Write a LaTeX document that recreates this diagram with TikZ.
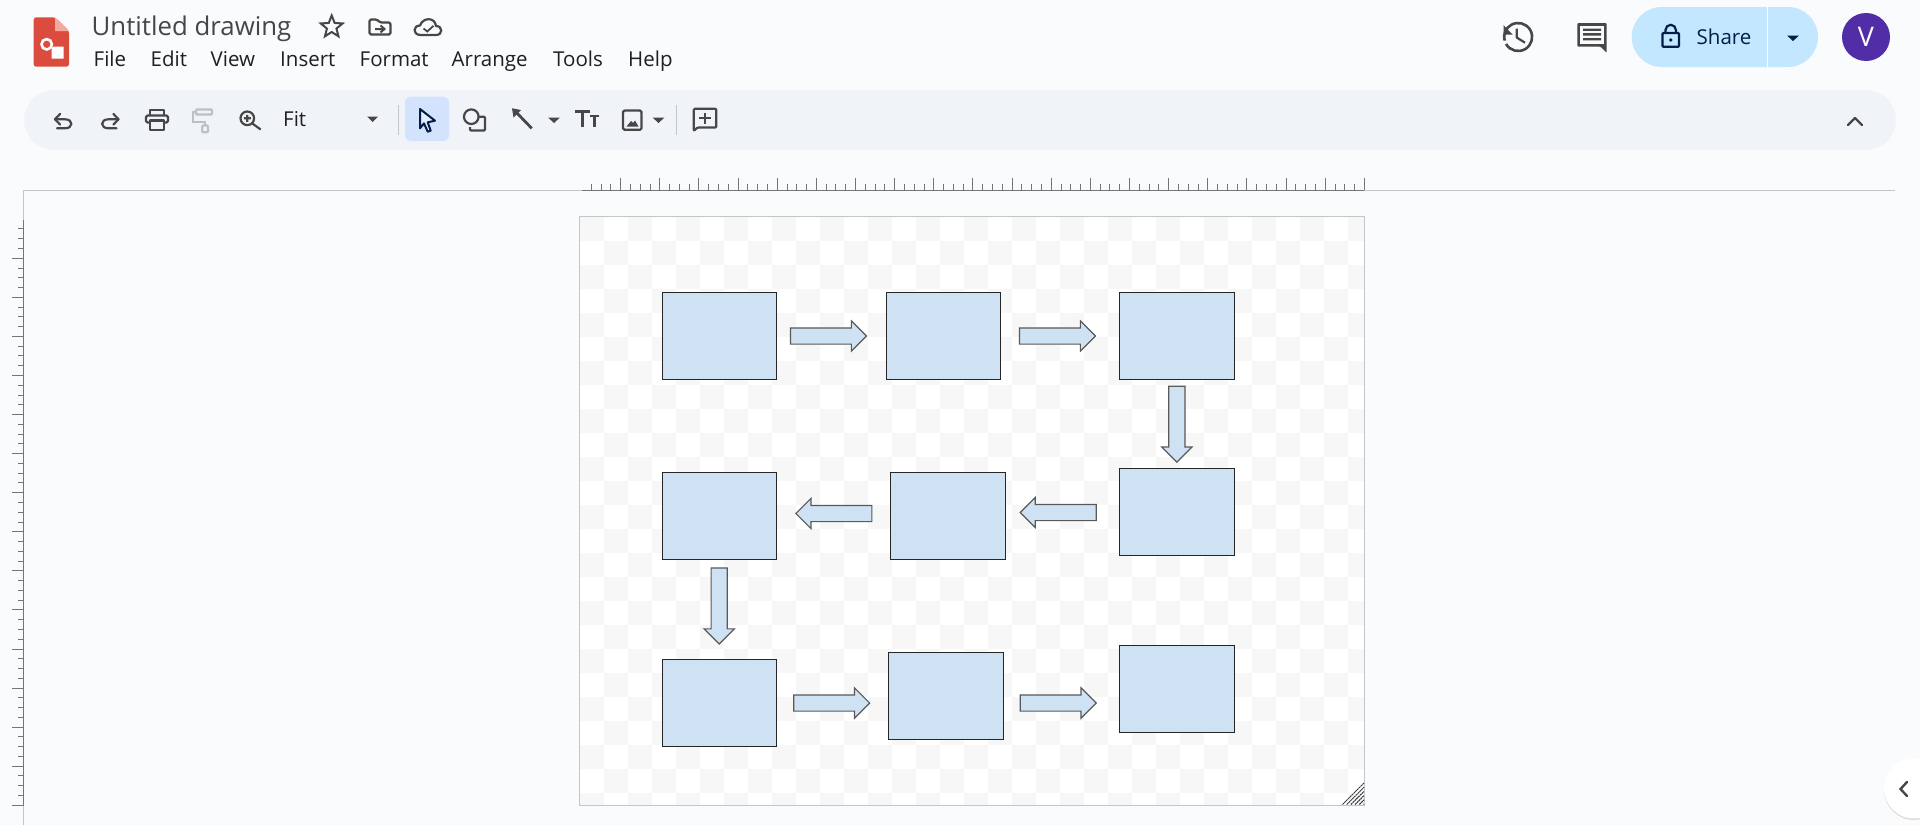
\documentclass[tikz,border=0pt]{standalone}
\usepackage{fontspec}
\setmainfont{Open Sans}
\usetikzlibrary{shapes.arrows,shapes.geometric,shadows}
\definecolor{canvasbg}{HTML}{FAFBFD}
\definecolor{toolbarbg}{HTML}{F0F4F9}
\definecolor{sharebg}{HTML}{C2E7FF}
\definecolor{selectbg}{HTML}{D3E3FD}
\definecolor{navyink}{HTML}{041E49}
\definecolor{iconink}{HTML}{474747}
\definecolor{paleink}{HTML}{BDC1C6}
\definecolor{titleink}{HTML}{444746}
\definecolor{rulerink}{HTML}{757575}
\definecolor{edgeink}{HTML}{C4C7C5}
\definecolor{checkgrey}{HTML}{F7F7F7}
\definecolor{boxblue}{HTML}{CFE2F3}
\definecolor{docsred}{HTML}{DB4C3F}
\definecolor{docsfold}{HTML}{F2A9A0}
\definecolor{avatarpurple}{HTML}{512DA8}

\begin{document}
\begin{tikzpicture}[x=1pt,y=-1pt,
  menuitem/.style={anchor=base west,inner sep=0pt,text=black!88,font=\fontsize{20.5}{24}\selectfont},
  flowbox/.style={draw=black!85,line width=0.9pt,fill=boxblue,minimum width=114.5pt,minimum height=87pt,inner sep=0pt},
  flowarrow/.style={draw=black!65,line width=1.2pt,fill=boxblue,single arrow,single arrow head extend=7pt,single arrow head indent=0pt,minimum height=76pt,anchor=tip},
  sidearrow/.style={flowarrow,inner xsep=0pt,inner ysep=7.5pt},
  downarrow/.style={flowarrow,shape border rotate=270,inner xsep=7.5pt,inner ysep=0pt},
  icon/.style={draw=iconink,line width=2.2pt,line join=round},
  caret/.style={fill=#1,draw=none},
  caret/.default=iconink]
  \useasboundingbox[fill=canvasbg] (0,0) rectangle (1920,825);

  % title bar
  \fill[docsred,rounded corners=2.5pt] (33.7,17.3) -- (55,17.3) -- (69,31) -- (69,66.7) -- (33.7,66.7) -- cycle;
  \fill[docsfold] (55,17.3) -- (69,31) -- (55,31) -- cycle;
  \draw[white,line width=2.6pt] (46.7,44.3) circle (5.2);
  \fill[white] (52.5,46.7) -- (63.5,46.7) -- (63.5,58.5) -- (51.5,58.5) -- (51.5,51) -- cycle;
  \node[anchor=base west,inner sep=0pt,text=titleink,font=\fontsize{25.8}{28}\selectfont] (title) at (91.5,35.5) {Untitled drawing};
  \node[star,star points=5,star point ratio=2.3,draw=iconink,line width=2pt,minimum size=23pt,inner sep=0pt] (starred) at (331.7,27) {};
  \draw[icon,rounded corners=1.5pt] (369.5,19.5) -- (377,19.5) -- (380,22.5) -- (390.5,22.5) -- (390.5,34.5) -- (369.5,34.5) -- cycle;
  \draw[iconink,line width=2pt] (375,29) -- (384,29) (380.5,25.5) -- (384.5,29) -- (380.5,32.5);
  \draw[icon] (421,35) .. controls (412,35) and (413,25.5) .. (420,25.5) .. controls (423,17) and (435,17) .. (436,26) .. controls (443,26) and (443,35) .. (436,35) -- cycle;
  \draw[iconink,line width=1.8pt] (423.5,28.5) -- (427.3,31.5) -- (433.5,25.8);
  \node[menuitem] (filemenu) at (93.5,66) {File};
  \node[menuitem] (editmenu) at (150.5,66) {Edit};
  \node[menuitem] (viewmenu) at (210.5,66) {View};
  \node[menuitem] (insertmenu) at (280,66) {Insert};
  \node[menuitem] (formatmenu) at (359.5,66) {Format};
  \node[menuitem] (arrangemenu) at (451.5,66) {Arrange};
  \node[menuitem] (toolsmenu) at (553,66) {Tools};
  \node[menuitem] (helpmenu) at (628,66) {Help};

  % top right
  \draw[icon,line width=2.6pt] (1506,44) arc (150:-195:14);
  \fill[iconink] (1503.5,25) -- (1512.5,34.5) -- (1503.5,34.5) -- cycle;
  \draw[icon] (1516.7,28.5) -- (1516.7,37.5) -- (1525,42.7);
  \fill[iconink,rounded corners=1pt] (1577.3,23) -- (1606.7,23) -- (1606.7,52.7) -- (1600.5,46.7) -- (1577.3,46.7) -- cycle;
  \fill[canvasbg] (1580.3,26) rectangle (1603.7,43.7);
  \fill[iconink] (1583,28.5) rectangle (1601,30.8) (1583,33.2) rectangle (1601,35.5) (1583,38) rectangle (1601,40.3);
  \fill[sharebg,rounded corners=30pt] (1631.7,7) rectangle (1818,67);
  \draw[white,line width=1pt] (1767.3,7) -- (1767.3,67);
  \draw[navyink,line width=2.2pt,rounded corners=1pt] (1662.5,33) rectangle (1679,46.8);
  \draw[navyink,line width=2.2pt] (1665.5,33) -- (1665.5,30) arc (180:360:5.2) -- (1675.9,33);
  \fill[navyink] (1670.7,40) circle (1.8);
  \node[anchor=base west,inner sep=0pt,text=navyink,font=\fontsize{20.5}{24}\selectfont] (sharetext) at (1696.5,44) {Share};
  \fill[navyink] (1787,35.5) -- (1799,35.5) -- (1793,41) -- cycle;
  \node[circle,fill=avatarpurple,minimum size=48pt,inner sep=0pt,text=white,font=\fontsize{27}{30}\selectfont] (avatar) at (1866,37) {V};

  % toolbar
  \fill[toolbarbg,rounded corners=30pt] (24,90) rectangle (1896,150);
  \draw[icon,line cap=round] (60,114) -- (55,119.3) -- (60,124.5);
  \draw[icon,line cap=round] (55,119.3) -- (65,119.3) .. controls (73.5,119.3) and (73.5,128.3) .. (65,128.3) -- (57,128.3);
  \draw[icon,line cap=round] (113.5,114) -- (118.5,119.3) -- (113.5,124.5);
  \draw[icon,line cap=round] (118.5,119.3) -- (108.5,119.3) .. controls (100,119.3) and (100,128.3) .. (108.5,128.3) -- (116.5,128.3);
  \draw[icon,rounded corners=1.5pt] (149.5,122.5) -- (146,122.5) -- (146,115.5) -- (168,115.5) -- (168,122.5) -- (164.5,122.5);
  \draw[icon] (149.8,115.5) -- (149.8,110) -- (164.2,110) -- (164.2,115.5);
  \draw[icon] (149.8,120.5) rectangle (164.2,130);
  \draw[paleink,line width=2.2pt,rounded corners=1pt] (196,109.5) rectangle (212,114.5);
  \draw[paleink,line width=2.2pt] (196,112) -- (193,112) -- (193,121.7) -- (205,121.7) -- (205,125.5);
  \draw[paleink,line width=2.2pt,rounded corners=1pt] (202.2,125.5) rectangle (208,132.3);
  \draw[icon] (247.3,118.3) circle (6.8);
  \draw[icon] (252.3,123.5) -- (260.7,129.5) (247.3,114.8) -- (247.3,121.8) (243.8,118.3) -- (250.8,118.3);
  \node[anchor=base west,inner sep=0pt,text=black!88,font=\fontsize{20.5}{24}\selectfont] (fitlabel) at (283,126) {Fit};
  \fill[caret] (367,116.5) -- (378,116.5) -- (372.5,122) -- cycle;
  \draw[edgeink,line width=1pt] (398.7,105) -- (398.7,135) (676.3,105) -- (676.3,135);
  \fill[selectbg,rounded corners=6pt] (405,96.7) rectangle (449,141);
  \draw[navyink,fill=selectbg!60,line width=2pt,line join=round] (420,109) -- (435,120.7) -- (427.7,122.3) -- (430.7,130.7) -- (427.7,131.7) -- (424,123.3) -- (420,128.3) -- cycle;
  \draw[icon] (471.3,116.7) circle (7.3);
  \draw[icon,rounded corners=1pt] (478.5,116.7) -- (485,116.7) -- (485,130.5) -- (470,130.5) -- (470,127);
  \draw[icon,line width=2.8pt] (531.7,128.3) -- (514,110);
  \fill[iconink] (512,108.3) -- (521,110) -- (513.5,117.5) -- cycle;
  \fill[caret] (548,117.5) -- (560,117.5) -- (554,123) -- cycle;
  \draw[icon,line width=3pt] (575,111) -- (590,111) (582.5,111) -- (582.5,126.5);
  \draw[icon,line width=2.8pt] (590,116) -- (598.5,116) (594.2,116) -- (594.2,126.5);
  \draw[icon,rounded corners=1.5pt] (623,110.5) rectangle (641.5,129.8);
  \fill[iconink] (626.5,126.5) -- (631,121) -- (633,123) -- (635,120.5) -- (638.5,126.5) -- cycle;
  \fill[caret] (652.5,117.5) -- (664.5,117.5) -- (658.5,123) -- cycle;
  \draw[icon,rounded corners=1pt] (693.8,131) -- (693.8,108.8) -- (716.3,108.8) -- (716.3,127.5) -- (697.5,127.5) -- cycle;
  \draw[iconink,line width=2pt] (705,112.5) -- (705,123.8) (699.3,118.2) -- (710.7,118.2);
  \draw[icon,line cap=round] (1848,125) -- (1855,118) -- (1862,125);

  % canvas edges and rulers
  \draw[edgeink,line width=1pt] (23.5,825) -- (23.5,190.3) -- (1895,190.3);
  \draw[rulerink,line width=1.2pt] (582,190.3) -- (1364.3,190.3);
  \foreach \k in {0,...,19} {
    \draw[rulerink,line width=1pt] ({620.7+39.14*\k},190.3) -- ++(0,-12);
    \foreach \m in {1,2,3}
      \draw[rulerink,line width=1pt] ({620.7+39.14*\k-9.785*\m},190.3) -- ++(0,-6);
  }
  \draw[rulerink,line width=1.2pt] (23.5,220) -- (23.5,806);
  \foreach \k in {0,...,14} {
    \draw[rulerink,line width=1pt] (23.5,{258.3+39.07*\k}) -- ++(-12,0);
    \foreach \m in {1,2,3}
      \draw[rulerink,line width=1pt] (23.5,{258.3+39.07*\k-9.77*\m}) -- ++(-6,0);
  }

  % page
  \fill[white] (579.5,216.5) rectangle (1364.5,805);
  \begin{scope}
    \clip (579.5,216.5) rectangle (1364.5,805);
    \foreach \r in {0,...,24} {
      \foreach \c in {0,...,32} {
        \pgfmathparse{int(mod(\r+\c,2))}
        \ifnum\pgfmathresult=0
          \fill[checkgrey] ({579.5+24*\c},{216.5+24*\r}) rectangle ++(24,24);
        \fi
      }
    }
  \end{scope}
  \draw[edgeink,line width=1pt] (579.5,216.5) rectangle (1364.5,805.5);
  \foreach \k in {0,...,5}
    \draw[black!80,line width=1pt,dash pattern=on 2pt off 0.6pt] ({1342.5+\k*4.2},804.5) -- (1364,{783+\k*4.2});

  % boxes
  \node[flowbox] (box1) at (719.2,335.8) {};
  \node[flowbox] (box2) at (943.6,335.8) {};
  \node[flowbox] (box3) at (1177,335.8) {};
  \node[flowbox] (box4) at (1177,512.2) {};
  \node[flowbox] (box5) at (947.9,515.5) {};
  \node[flowbox] (box6) at (719.2,515.5) {};
  \node[flowbox] (box7) at (719.2,702.5) {};
  \node[flowbox] (box8) at (945.7,695.8) {};
  \node[flowbox] (box9) at (1177,688.7) {};

  % arrows
  \node[sidearrow] (arrow1) at (867.3,336) {};
  \node[sidearrow] (arrow2) at (1096.3,336) {};
  \node[downarrow] (arrow3) at (1176.9,463) {};
  \node[sidearrow,shape border rotate=180] (arrow4) at (1019.3,512.5) {};
  \node[sidearrow,shape border rotate=180] (arrow5) at (795,513.5) {};
  \node[downarrow] (arrow6) at (719.2,644.8) {};
  \node[sidearrow] (arrow7) at (870.5,703) {};
  \node[sidearrow] (arrow8) at (1097,703) {};

  % side panel toggle
  \begin{scope}
    \clip (1860,745) rectangle (1920,825);
    \fill[white,drop shadow={shadow xshift=0pt,shadow yshift=-1.5pt,opacity=0.25}] (1914,788.5) circle (30);
  \end{scope}
  \draw[iconink,line width=2.4pt,line cap=round] (1907,782) -- (1900.5,789) -- (1907,796);
\end{tikzpicture}
\end{document}
